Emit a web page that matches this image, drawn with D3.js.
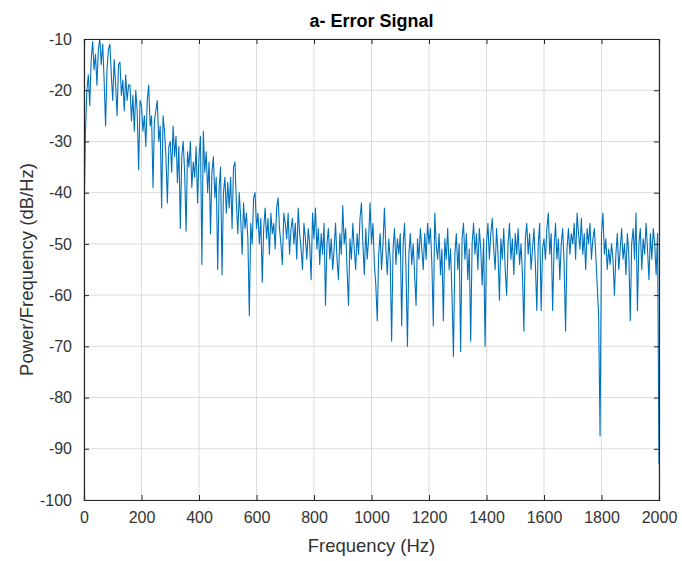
<!DOCTYPE html>
<html>
<head>
<meta charset="utf-8">
<script src="https://cdn.jsdelivr.net/npm/d3@7"></script>
<style>
  body { margin: 0; background: #fff; }
  svg { display: block; font-family: "Liberation Sans", Arial, sans-serif; }
</style>
</head>
<body>
<svg id="chart" width="682" height="561"></svg>
<script>
// frequency step of the estimate (Hz)
let freqStep = 5;

// power spectral density, dB/Hz, one row per 100 Hz
let psdValues = [
  -46, -28, -20, -17, -23, -14, -10.5, -16, -13, -19, -12, -10, -15, -11, -18, -27, -16, -12, -11, -17,
  -22, -14, -19, -25, -15, -14.5, -21, -18, -24, -17, -22, -19, -19, -26, -21, -28, -20, -24, -35.5, -22,
  -23, -28, -25, -31, -22, -19, -27, -25, -39, -26, -24, -22, -30, -27, -43, -25, -28, -33, -42, -31,
  -30, -36, -27, -33, -29, -38, -31, -47, -33, -30, -36, -47.5, -32, -35, -30, -39, -34, -37, -31, -42,
  -33, -29, -54, -28, -36, -32, -40, -34, -48, -36, -33, -41, -37, -55, -39, -35, -56, -40, -37, -44,
  -38, -43, -37, -47, -35, -34, -42, -48, -40, -45, -52, -42, -47, -44, -49, -64, -46, -50, -41, -40,
  -47, -44, -50, -45, -57.5, -47, -43, -49, -45, -52, -44, -48, -46, -51, -43, -41, -47, -50, -54, -44,
  -46, -49, -44, -52, -47, -45, -50, -46, -53, -43, -48, -51, -55, -46, -49, -53, -47, -50, -57, -44,
  -49, -43, -51, -47, -54, -48, -52, -46, -62, -50, -47, -53, -49, -55, -51, -46, -53, -57, -48, -52,
  -42.5, -50, -47, -55, -62, -49, -53, -46, -51, -55, -48, -52, -45, -42, -50, -56, -47, -53, -49, -42,
  -50, -46, -54, -58, -65, -52, -48, -55, -50, -43, -51, -56, -49, -53, -69, -51, -47, -54, -49, -52,
  -48, -66, -50, -46, -55, -70, -52, -48, -54, -50, -56, -62, -49, -53, -47, -51, -55, -48, -53, -46,
  -50, -47, -54, -66, -44, -50, -53, -48, -56, -51, -65, -49, -53, -47, -55, -51, -60, -72, -52, -48,
  -55, -50, -71, -49, -46, -53, -48, -57, -51, -69, -50, -46, -52, -48, -55, -47, -51, -58, -49, -70,
  -50, -46, -53, -48, -45, -51, -55, -47, -52, -61, -49, -53, -47, -55, -60, -50, -46, -53, -49, -56,
  -48, -52, -47, -54, -50, -56, -67, -49, -46, -52, -48, -55, -51, -47, -54, -63, -50, -46, -63, -51,
  -49, -53, -47, -44, -52, -48, -63, -51, -46, -53, -49, -57, -50, -47, -54, -67, -51, -47, -52, -48,
  -50, -46, -53, -44, -48, -51, -45, -52, -48, -55, -47, -50, -46, -53, -49, -47, -52, -58, -64, -87.5,
  -48, -44, -52, -49, -55, -51, -54, -50, -53, -60, -52, -48, -55, -51, -47, -53, -50, -56, -48, -52,
  -65, -50, -47, -53, -44, -63, -50, -47, -55, -49, -52, -46, -51, -57, -48, -53, -47, -50, -56, -48,
  -93
];

let xTicks = [0, 200, 400, 600, 800, 1000, 1200, 1400, 1600, 1800, 2000];
let yTicks = [-100, -90, -80, -70, -60, -50, -40, -30, -20, -10];

let titleText = "a- Error Signal";
let xLabel = "Frequency (Hz)";
let yLabel = "Power/Frequency (dB/Hz)";

let psdData = psdValues.map((v, i) => ({ f: i * freqStep, p: v }));

let margin = { left: 84, top: 39, right: 23, bottom: 61 };
let width = 682 - margin.left - margin.right;
let height = 561 - margin.top - margin.bottom;

let svg = d3.select("#chart");
let g = svg.append("g").attr("transform", `translate(${margin.left},${margin.top})`);

let xScale = d3.scaleLinear().domain([0, 2000]).range([0, width]);
let yScale = d3.scaleLinear().domain([-100, -10]).range([height, 0]);

let axisColor = "#262626";

// grid
g.append("g")
  .selectAll("line")
  .data(xTicks)
  .enter()
  .append("line")
  .attr("x1", d => xScale(d)).attr("x2", d => xScale(d))
  .attr("y1", 0).attr("y2", height)
  .attr("stroke", "#dcdcdc").attr("stroke-width", 1);

g.append("g")
  .selectAll("line")
  .data(yTicks)
  .enter()
  .append("line")
  .attr("x1", 0).attr("x2", width)
  .attr("y1", d => yScale(d)).attr("y2", d => yScale(d))
  .attr("stroke", "#dcdcdc").attr("stroke-width", 1);

// the spectrum
svg.append("clipPath").attr("id", "plotClip")
  .append("rect").attr("width", width).attr("height", height);

g.append("path")
  .datum(psdData)
  .attr("clip-path", "url(#plotClip)")
  .attr("fill", "none")
  .attr("stroke", "#0072BD")
  .attr("stroke-width", 1.1)
  .attr("stroke-linejoin", "round")
  .attr("d", d3.line().x(d => xScale(d.f)).y(d => yScale(d.p)));

// axes, ticks pointing inward like matlab
let plainFormat = d => String(d);

let xAxis = g.append("g")
  .attr("transform", `translate(0,${height})`)
  .call(d3.axisBottom(xScale).tickValues(xTicks).tickSize(-5).tickPadding(12).tickFormat(plainFormat));

let yAxis = g.append("g")
  .call(d3.axisLeft(yScale).tickValues(yTicks).tickSize(-5).tickPadding(12).tickFormat(plainFormat));

let xAxisTop = g.append("g")
  .call(d3.axisTop(xScale).tickValues(xTicks).tickSize(-5).tickFormat(""));

let yAxisRight = g.append("g")
  .attr("transform", `translate(${width},0)`)
  .call(d3.axisRight(yScale).tickValues(yTicks).tickSize(-5).tickFormat(""));

[xAxis, yAxis, xAxisTop, yAxisRight].forEach(a => {
  a.select(".domain").attr("stroke", axisColor).attr("stroke-width", 1.2);
  a.selectAll(".tick line").attr("stroke", axisColor);
  a.selectAll(".tick text")
    .attr("fill", "#333")
    .style("font-size", "16px")
    .style("font-family", "'Liberation Sans', Arial, sans-serif");
});

// title and labels
svg.append("text")
  .attr("x", margin.left + width / 2)
  .attr("y", 27)
  .attr("text-anchor", "middle")
  .attr("fill", "#000")
  .style("font-size", "18px")
  .style("font-weight", "bold")
  .text(titleText);

svg.append("text")
  .attr("x", margin.left + width / 2)
  .attr("y", 552)
  .attr("text-anchor", "middle")
  .attr("fill", "#333")
  .style("font-size", "18.5px")
  .text(xLabel);

svg.append("text")
  .attr("transform", `translate(33,${margin.top + height / 2}) rotate(-90)`)
  .attr("text-anchor", "middle")
  .attr("fill", "#333")
  .style("font-size", "18.5px")
  .text(yLabel);
</script>
</body>
</html>
